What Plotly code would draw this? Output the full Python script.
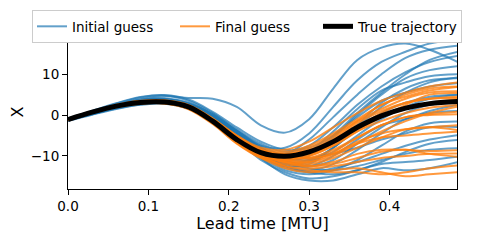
import plotly.graph_objects as go

# lead time grid [MTU]
lead_time = [0.0, 0.03, 0.06, 0.09, 0.12, 0.15, 0.18, 0.21, 0.24, 0.27,
             0.30, 0.33, 0.36, 0.39, 0.42, 0.45, 0.485]

true_traj = [-1.1, 0.7, 2.2, 3.1, 3.2, 2.0, -1.5, -6.0, -9.2, -10.1,
             -9.0, -6.5, -3.0, -0.2, 1.7, 2.8, 3.3]

initial_guess = [
    [-1.0, 0.6, 2.4, 3.9, 4.6, 4.2, 4.0, 2.0, -2.5, -4.3, -1.0, 6.5, 13.5, 16.5, 17.5, 16.0, 13.0],
    [-1.3, 0.3, 1.9, 3.2, 3.8, 2.8, 0.2, -3.8, -7.5, -8.0, -4.5, 2.0, 8.5, 13.0, 15.5, 17.5, 18.5],
    [-1.1, 0.8, 2.6, 3.6, 3.9, 2.5, -0.8, -4.5, -8.5, -9.5, -6.0, -0.5, 5.0, 10.0, 14.0, 16.0, 17.0],
    [-0.9, 0.9, 2.8, 4.3, 4.8, 3.5, 0.5, -3.5, -7.0, -9.0, -7.5, -3.0, 2.5, 7.0, 10.5, 13.0, 14.5],
    [-1.2, 0.2, 1.6, 2.6, 3.0, 1.8, -1.5, -5.5, -9.0, -11.0, -10.0, -5.5, 0.0, 5.0, 9.0, 11.0, 12.0],
    [-1.0, 0.5, 2.1, 3.3, 3.5, 2.2, -0.5, -4.5, -8.0, -10.5, -9.0, -4.0, 1.5, 6.0, 8.0, 9.5, 10.0],
    [-1.4, 0.1, 1.5, 2.5, 2.8, 1.5, -1.8, -6.0, -10.0, -12.5, -12.0, -8.0, -2.5, 3.0, 6.5, 8.5, 9.0],
    [-0.8, 1.0, 2.9, 4.4, 4.9, 3.8, 0.8, -3.0, -6.5, -8.5, -8.0, -5.0, -0.5, 3.5, 5.5, 7.0, 7.8],
    [-1.1, 0.4, 1.8, 2.9, 3.2, 2.0, -1.0, -5.0, -9.5, -12.0, -11.5, -8.0, -3.5, 0.5, 3.0, 4.5, 5.0],
    [-1.2, 0.5, 2.2, 3.4, 3.6, 2.4, -0.4, -4.0, -8.0, -11.0, -12.5, -11.0, -7.0, -3.0, 0.5, 2.5, 3.0],
    [-1.0, 0.6, 2.3, 3.5, 3.9, 2.9, 0.0, -4.5, -9.0, -12.5, -13.5, -12.0, -8.5, -4.5, -1.0, 0.5, 1.0],
    [-1.3, 0.2, 1.7, 2.7, 2.9, 1.6, -1.6, -6.0, -10.5, -13.5, -14.5, -13.5, -11.0, -7.5, -4.0, -2.0, -1.6],
    [-0.9, 0.8, 2.5, 3.8, 4.1, 3.0, 0.2, -3.8, -7.5, -10.0, -10.5, -9.5, -8.0, -6.0, -4.5, -3.0, -2.9],
    [-1.1, 0.3, 1.8, 2.8, 3.1, 1.9, -1.2, -5.5, -10.0, -13.0, -14.0, -13.0, -11.5, -9.5, -7.5, -6.0, -4.9],
    [-1.2, 0.4, 2.0, 3.1, 3.3, 2.0, -1.0, -5.2, -9.5, -12.5, -14.0, -14.5, -13.5, -11.5, -9.0, -7.0, -6.1],
    [-1.0, 0.7, 2.4, 3.7, 4.0, 2.7, -0.3, -4.2, -8.5, -11.5, -13.0, -13.5, -12.5, -11.0, -9.5, -8.5, -8.1],
    [-1.2, 0.3, 1.7, 2.8, 3.0, 1.7, -1.5, -6.0, -11.0, -14.0, -15.5, -15.0, -13.5, -12.0, -11.5, -11.0, -10.2],
    [-1.1, 0.5, 2.0, 3.0, 3.3, 2.1, -1.0, -5.5, -10.5, -14.5, -16.0, -16.0, -14.5, -13.0, -13.5, -13.0, -11.5],
    [-1.0, 0.6, 2.2, 3.3, 3.4, 2.2, -0.8, -5.0, -9.0, -11.5, -11.0, -8.0, -3.0, 2.0, 5.5, 8.0, 9.2],
    [-1.2, 0.4, 1.9, 3.0, 3.3, 2.3, -0.6, -4.8, -9.0, -11.0, -9.5, -5.0, 0.5, 5.5, 10.0, 13.5, 15.5],
    [-1.1, 0.6, 2.2, 3.4, 3.7, 2.6, -0.2, -4.0, -8.0, -10.5, -11.0, -9.0, -5.0, -1.0, 2.0, 4.0, 4.9],
    [-1.0, 0.5, 2.1, 3.2, 3.5, 2.4, -0.7, -5.0, -9.5, -12.0, -12.5, -10.0, -6.0, -2.5, -1.0, 1.0, 2.5],
]

final_guess = [
    [-1.1, 0.8, 2.5, 3.5, 3.6, 2.5, -0.8, -5.0, -8.0, -8.5, -6.5, -3.0, 0.5, 3.5, 5.5, 7.0, 8.0],
    [-1.0, 0.9, 2.4, 3.3, 3.4, 2.2, -1.2, -5.5, -8.5, -9.0, -7.5, -4.5, -1.0, 2.5, 5.0, 6.5, 7.0],
    [-1.2, 0.6, 2.1, 3.0, 3.1, 1.8, -1.8, -6.0, -9.0, -9.5, -8.0, -5.0, -1.5, 1.5, 4.0, 5.5, 5.8],
    [-1.1, 0.7, 2.3, 3.2, 3.3, 2.1, -1.4, -5.8, -9.0, -10.0, -9.0, -6.0, -2.0, 1.0, 3.0, 4.0, 4.5],
    [-1.0, 0.8, 2.3, 3.2, 3.2, 1.9, -1.6, -6.2, -9.5, -10.5, -9.5, -7.0, -3.5, -0.5, 1.5, 3.0, 3.8],
    [-1.2, 0.6, 2.0, 2.9, 2.9, 1.6, -2.0, -6.5, -9.8, -11.0, -10.0, -7.5, -4.0, -1.5, 0.5, 1.8, 2.5],
    [-1.1, 0.7, 2.2, 3.1, 3.3, 2.1, -1.3, -5.5, -8.8, -10.5, -10.5, -8.5, -5.5, -2.5, -0.5, 0.2, 0.8],
    [-1.0, 0.8, 2.4, 3.4, 3.5, 2.4, -0.9, -5.0, -8.5, -10.0, -10.5, -9.5, -6.5, -4.5, -3.5, -3.0, -2.5],
    [-1.1, 0.6, 2.1, 3.0, 3.0, 1.7, -1.9, -6.5, -10.0, -11.5, -11.5, -9.5, -7.0, -5.5, -5.0, -4.5, -4.1],
    [-1.2, 0.5, 1.9, 2.8, 2.8, 1.4, -2.2, -7.0, -10.5, -12.0, -12.5, -11.5, -9.5, -8.5, -8.5, -8.8, -8.6],
    [-1.1, 0.7, 2.2, 3.1, 3.1, 1.9, -1.7, -6.2, -10.0, -12.5, -13.0, -12.5, -11.5, -10.5, -10.0, -9.5, -9.4],
    [-1.0, 0.8, 2.3, 3.2, 3.3, 2.0, -1.5, -6.0, -10.0, -12.5, -13.5, -14.0, -14.0, -14.5, -14.0, -13.0, -12.3],
    [-1.2, 0.5, 2.0, 2.9, 2.9, 1.6, -2.0, -6.8, -10.5, -13.0, -14.0, -13.5, -13.0, -14.0, -15.0, -14.5, -14.0],
    [-1.1, 0.7, 2.2, 3.2, 3.4, 2.3, -1.0, -5.2, -8.5, -9.5, -8.5, -5.5, -1.5, 2.5, 4.5, 6.0, 6.9],
    [-1.0, 0.7, 2.2, 3.1, 3.2, 2.0, -1.4, -5.5, -8.8, -10.0, -9.5, -7.0, -3.0, 0.5, 3.0, 4.0, 4.2],
    [-1.1, 0.6, 2.1, 3.0, 3.0, 1.8, -1.6, -6.0, -9.5, -11.0, -11.0, -9.0, -5.5, -2.5, -0.5, 0.0, 0.2],
    [-1.2, 0.6, 2.0, 2.9, 3.0, 1.7, -1.8, -6.3, -9.8, -11.5, -12.0, -10.5, -8.0, -5.5, -3.5, -3.0, -3.7],
    [-1.1, 0.8, 2.4, 3.3, 3.3, 2.0, -1.3, -5.5, -9.0, -10.5, -10.0, -7.5, -4.0, -0.5, 2.5, 5.0, 5.4],
    [-1.0, 0.7, 2.2, 3.1, 3.2, 1.9, -1.6, -6.0, -9.5, -11.5, -12.5, -12.0, -10.5, -9.0, -8.5, -9.5, -10.2],
    [-1.2, 0.6, 2.1, 3.0, 3.1, 1.9, -1.5, -5.8, -9.2, -11.0, -11.5, -10.0, -7.0, -4.0, -1.5, 0.5, 2.1],
]

FONT = "DejaVu Sans"
blue = "rgba(31,119,180,0.7)"
orange = "rgba(255,127,14,0.8)"

fig = go.Figure()
for i, member in enumerate(initial_guess):
    fig.add_trace(go.Scatter(x=lead_time, y=member, mode="lines", line_shape="spline",
                             line=dict(color=blue, width=2),
                             name="Initial guess", legendgroup="init", showlegend=(i == 0)))
for i, member in enumerate(final_guess):
    fig.add_trace(go.Scatter(x=lead_time, y=member, mode="lines", line_shape="spline",
                             line=dict(color=orange, width=2),
                             name="Final guess", legendgroup="final", showlegend=(i == 0)))
fig.add_trace(go.Scatter(x=lead_time, y=true_traj, mode="lines", line_shape="spline",
                         line=dict(color="black", width=5), name="True trajectory"))

axis_style = dict(showline=True, linecolor="black", linewidth=1, mirror=True,
                  ticks="outside", ticklen=5, tickcolor="black", showgrid=False,
                  zeroline=False, automargin=False, tickfont=dict(size=13.5, color="black"))

# page body has an 8px margin, so the figure is sized to the remaining space
fig.update_layout(
    width=481, height=233,
    margin=dict(l=60, r=32, t=27, b=52, autoexpand=False),
    plot_bgcolor="white", paper_bgcolor="white",
    font=dict(family=FONT, size=13.5, color="black"),
    xaxis=dict(range=[0, 0.484], tickvals=[0, 0.1, 0.2, 0.3, 0.4], tickformat=".1f",
               title=dict(text="Lead time [MTU]", standoff=4), **axis_style),
    yaxis=dict(range=[-18.1, 19.6], tickvals=[-10, 0, 10],
               title=dict(text="X", standoff=12), **axis_style),
    legend=dict(orientation="h", x=-0.0925, xanchor="left", y=1.162, yanchor="top",
                bgcolor="white", bordercolor="#cccccc", borderwidth=1,
                entrywidth=98, font=dict(size=13.5)),
)

fig.write_html("out.html")
